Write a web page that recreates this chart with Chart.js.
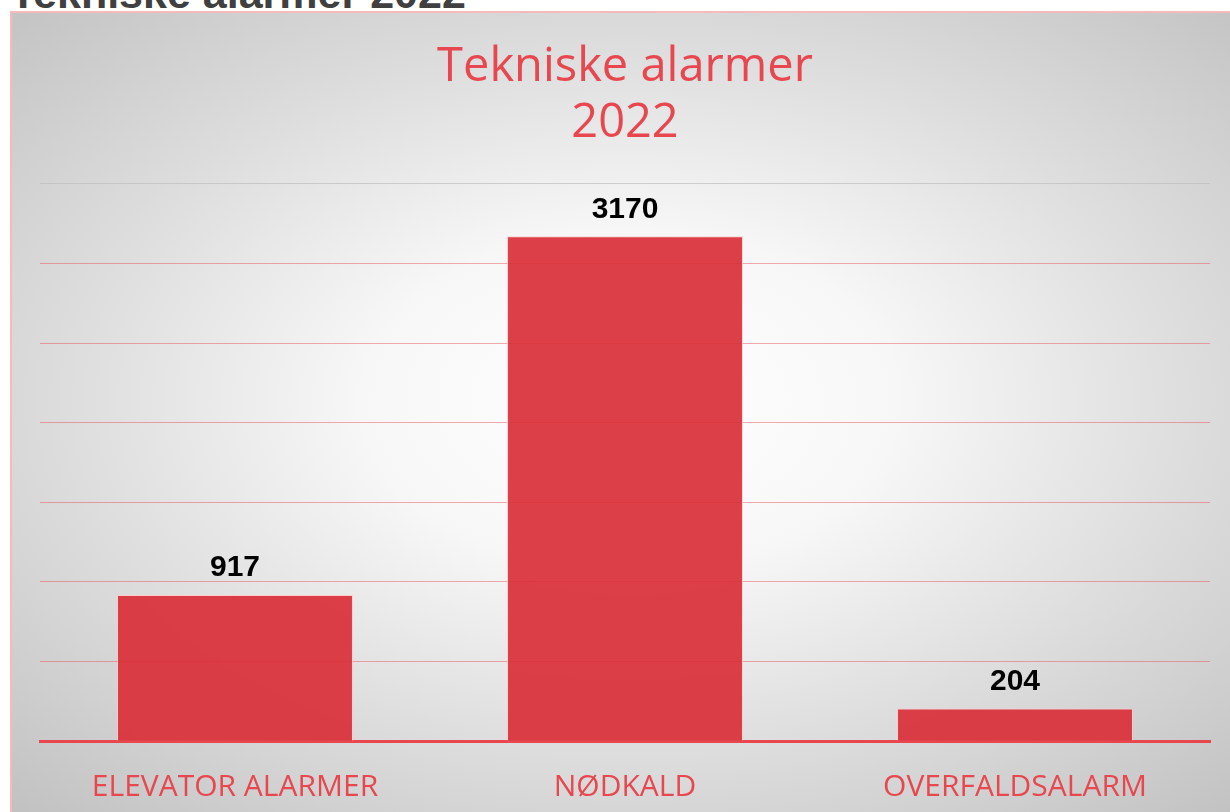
<!DOCTYPE html>
<html>
<head>
<meta charset="utf-8">
<script src="https://cdn.jsdelivr.net/npm/chart.js@4/dist/chart.umd.min.js"></script>
<style>
html, body { margin: 0; padding: 0; background: #fff; overflow: hidden; }
#heading {
	position: absolute; left: 10px; top: -29px; margin: 0;
	font-family: "Liberation Sans", Arial, sans-serif; font-weight: bold;
	font-size: 43px; line-height: 44px; color: #404040; white-space: nowrap;
}
#frame {
	position: absolute; left: 10px; top: 11px; width: 1240px; height: 830px;
	border: 2px solid #f6baba; box-sizing: border-box;
	background: radial-gradient(ellipse 72% 68% at 50% 47%, #ffffff 0%, #f7f7f7 30%, #dedede 62%, #c2c2c2 100%);
}
#wrap { position: absolute; left: 0; top: 0; width: 1230px; height: 812px; }
</style>
</head>
<body>
<div id="heading">Tekniske alarmer 2022</div>
<div id="frame"></div>
<div id="wrap"><canvas id="chart"></canvas></div>
<script>
var categories = ["ELEVATOR ALARMER", "NØDKALD", "OVERFALDSALARM"];
var alarmCounts = [917, 3170, 204];
var chartTitle = ["Tekniske alarmer", "2022"];

var red = "#e8474f";

// draws the numbers above each bar
var valueLabels = {
	id: "valueLabels",
	afterDatasetsDraw: function(chart) {
		var c = chart.ctx;
		var meta = chart.getDatasetMeta(0);
		c.save();
		c.font = "bold 30px 'Liberation Sans', Arial, sans-serif";
		c.fillStyle = "#000";
		c.textAlign = "center";
		c.textBaseline = "middle";
		for (var i = 0; i < meta.data.length; i++) {
			var bar = meta.data[i];
			c.fillText(String(alarmCounts[i]), bar.x, bar.y - 27);
		}
		c.restore();
	}
};

var ctx = document.getElementById("chart");
var myChart = new Chart(ctx, {
	type: "bar",
	data: {
		labels: categories,
		datasets: [{
			data: alarmCounts,
			backgroundColor: "rgba(217,47,55,0.92)",
			borderColor: "rgba(255,205,205,0.9)",
			borderWidth: 1,
			borderSkipped: "bottom",
			categoryPercentage: 1,
			barPercentage: 0.605
		}]
	},
	plugins: [valueLabels],
	options: {
		responsive: true,
		maintainAspectRatio: false,
		animation: false,
		layout: { padding: { left: 40, right: 20, top: 0, bottom: 0 } },
		plugins: {
			legend: { display: false },
			tooltip: { enabled: false },
			title: {
				display: true,
				text: chartTitle,
				color: red,
				font: { family: "'Open Sans', 'Noto Sans', sans-serif", size: 47, weight: "normal", lineHeight: 1.2 },
				padding: { top: 39, bottom: 32 }
			}
		},
		scales: {
			x: {
				grid: { display: false },
				border: { display: true, color: red, width: 3 },
				ticks: {
					color: red,
					padding: 20,
					maxRotation: 0,
					font: { family: "'Open Sans', 'Noto Sans', sans-serif", size: 30, lineHeight: 1.2 }
				},
				afterFit: function(s) { s.height = 71; }
			},
			y: {
				min: 0,
				max: 3500,
				ticks: { display: false, stepSize: 500 },
				border: { display: false },
				grid: {
					drawTicks: false,
					lineWidth: 1,
					color: function(c) {
						if (c.tick && c.tick.value === 3500) return "rgba(190,190,190,0.7)";
						return "rgba(232,70,80,0.45)";
					}
				},
				afterFit: function(s) { s.width = 0; }
			}
		}
	}
});
</script>
</body>
</html>
